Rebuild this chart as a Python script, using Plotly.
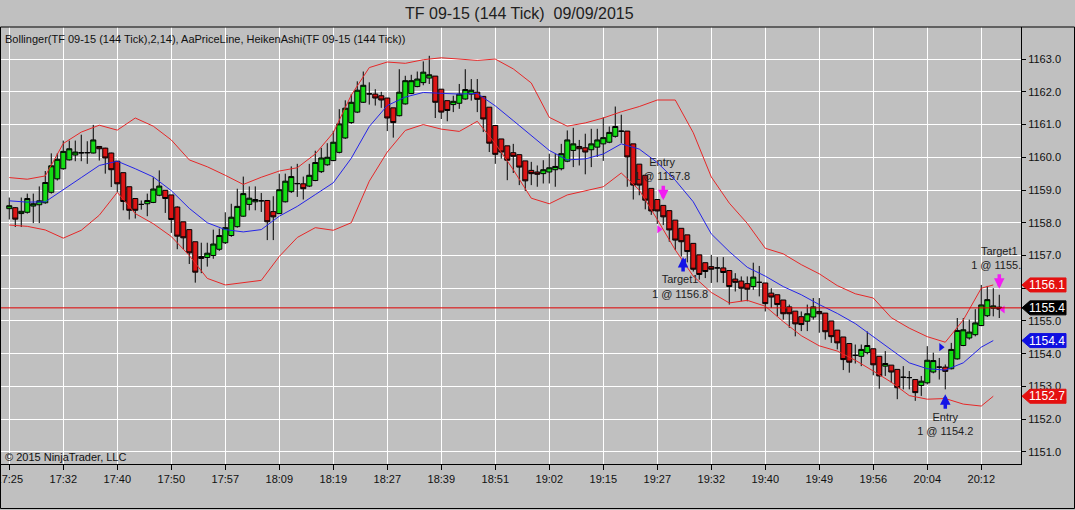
import plotly.graph_objects as go

# Heiken Ashi bars (TF 09-15, 144 tick, 09/09/2015), one entry per bar
ha_open = [
    1158.43, 1158.46, 1158.28, 1158.32, 1158.51, 1158.55, 1158.61, 1158.93, 1159.34, 1159.65,
    1159.92, 1160.07, 1160.13, 1160.14, 1160.13, 1160.33, 1160.28, 1160.13, 1159.88, 1159.53,
    1159.10, 1158.74, 1158.56, 1158.58, 1158.62, 1158.84, 1158.99, 1158.85, 1158.48, 1158.03,
    1157.79, 1157.42, 1156.97, 1156.94, 1157.00, 1157.19, 1157.39, 1157.61, 1157.88, 1158.20,
    1158.56, 1158.64, 1158.67, 1158.68, 1158.34, 1158.28, 1158.64, 1158.95, 1159.19, 1159.19,
    1159.12, 1159.29, 1159.56, 1159.77, 1159.90, 1160.15, 1160.59, 1161.06, 1161.38, 1161.68,
    1161.93, 1161.93, 1161.88, 1161.81, 1161.51, 1161.27, 1161.63, 1161.95, 1162.16, 1162.28,
    1162.42, 1162.48, 1162.08, 1161.73, 1161.61, 1161.65, 1161.78, 1161.93, 1161.99, 1161.86,
    1161.53, 1160.97, 1160.56, 1160.35, 1160.14, 1160.08, 1159.89, 1159.60, 1159.55, 1159.50,
    1159.55, 1159.62, 1159.65, 1159.88, 1160.21, 1160.33, 1160.29, 1160.23, 1160.31, 1160.41,
    1160.46, 1160.64, 1160.79, 1160.80, 1160.41, 1159.79, 1159.45, 1159.05, 1158.71, 1158.53,
    1158.37, 1158.08, 1157.83, 1157.63, 1157.37, 1157.02, 1156.78, 1156.66, 1156.62, 1156.62,
    1156.54, 1156.28, 1156.22, 1156.14, 1156.05, 1156.18, 1156.16, 1155.85, 1155.80, 1155.64,
    1155.43, 1155.30, 1155.13, 1154.99, 1155.12, 1155.29, 1155.24, 1155.00, 1154.72, 1154.51,
    1154.31, 1153.95, 1153.92, 1154.03, 1154.15, 1153.92, 1153.62, 1153.65, 1153.52, 1153.28,
    1153.27, 1153.21, 1153.03, 1153.11, 1153.44, 1153.59, 1153.59, 1153.54, 1153.84, 1154.25,
    1154.48, 1154.58, 1154.86, 1155.16, 1155.39, 1155.42,
]
ha_high = [
    1158.77, 1158.48, 1158.77, 1158.89, 1158.89, 1159.11, 1159.58, 1160.12, 1160.12, 1160.51,
    1160.51, 1160.51, 1160.69, 1160.49, 1160.99, 1160.34, 1160.29, 1160.14, 1159.88, 1159.53,
    1159.10, 1158.74, 1158.68, 1158.89, 1159.39, 1159.60, 1158.99, 1158.85, 1158.50, 1158.03,
    1157.79, 1157.42, 1157.39, 1157.39, 1157.79, 1157.82, 1158.32, 1158.58, 1159.04, 1159.41,
    1159.11, 1159.11, 1158.91, 1158.68, 1158.81, 1159.50, 1159.50, 1159.72, 1159.80, 1159.41,
    1159.80, 1160.20, 1160.29, 1160.43, 1160.81, 1161.47, 1161.74, 1161.93, 1162.32, 1162.62,
    1162.29, 1162.08, 1162.00, 1161.81, 1161.51, 1162.69, 1162.49, 1162.52, 1162.62, 1162.93,
    1163.10, 1162.48, 1162.08, 1161.73, 1161.88, 1162.24, 1162.69, 1162.39, 1162.39, 1161.86,
    1161.53, 1160.97, 1160.56, 1160.35, 1160.41, 1160.08, 1159.89, 1159.86, 1159.75, 1159.91,
    1160.11, 1160.11, 1160.41, 1160.82, 1160.90, 1160.53, 1160.72, 1160.87, 1160.87, 1161.22,
    1160.94, 1161.55, 1161.30, 1160.80, 1160.41, 1159.79, 1159.45, 1159.05, 1158.71, 1158.53,
    1158.37, 1158.08, 1157.83, 1157.63, 1157.37, 1157.02, 1156.78, 1157.02, 1156.95, 1156.95,
    1156.54, 1156.46, 1156.36, 1156.36, 1156.78, 1156.68, 1156.16, 1156.00, 1155.80, 1155.64,
    1155.50, 1155.30, 1155.29, 1155.50, 1155.70, 1155.70, 1155.24, 1155.00, 1154.72, 1154.51,
    1154.31, 1154.28, 1154.28, 1154.68, 1154.15, 1153.92, 1154.08, 1153.65, 1153.52, 1153.62,
    1153.47, 1153.21, 1153.32, 1154.23, 1154.03, 1153.87, 1153.67, 1154.33, 1155.09, 1155.09,
    1155.04, 1155.36, 1156.10, 1156.07, 1156.00, 1155.80,
]
ha_low = [
    1158.10, 1157.87, 1157.87, 1158.28, 1157.99, 1157.99, 1158.58, 1158.89, 1159.29, 1159.62,
    1159.90, 1159.88, 1159.88, 1159.80, 1160.12, 1159.90, 1159.50, 1159.09, 1158.94, 1158.38,
    1158.10, 1158.13, 1158.40, 1158.20, 1158.60, 1158.81, 1158.30, 1157.69, 1157.19, 1157.19,
    1156.74, 1156.17, 1156.46, 1156.66, 1156.90, 1157.14, 1157.35, 1157.57, 1157.85, 1158.18,
    1158.38, 1158.38, 1158.33, 1157.47, 1157.47, 1158.26, 1158.62, 1158.91, 1158.79, 1158.71,
    1159.09, 1159.27, 1159.52, 1159.74, 1159.88, 1160.12, 1160.56, 1161.02, 1161.35, 1161.66,
    1161.61, 1161.58, 1161.51, 1160.80, 1160.60, 1161.25, 1161.61, 1161.93, 1162.14, 1162.20,
    1162.24, 1161.20, 1161.17, 1161.10, 1161.38, 1161.48, 1161.76, 1161.73, 1161.38, 1160.77,
    1160.16, 1159.80, 1159.96, 1159.30, 1159.52, 1159.15, 1158.97, 1159.15, 1159.10, 1159.20,
    1159.20, 1159.10, 1159.60, 1159.85, 1159.70, 1159.75, 1159.48, 1159.70, 1160.01, 1159.89,
    1160.43, 1160.60, 1160.43, 1159.10, 1158.71, 1158.84, 1158.41, 1158.24, 1157.96, 1157.93,
    1157.42, 1157.17, 1156.97, 1156.79, 1156.51, 1156.26, 1156.31, 1156.16, 1156.18, 1156.16,
    1155.50, 1155.90, 1155.60, 1155.60, 1155.95, 1155.75, 1155.29, 1155.40, 1155.14, 1155.04,
    1154.79, 1154.53, 1154.69, 1154.69, 1155.04, 1154.64, 1154.43, 1154.33, 1154.13, 1153.50,
    1153.42, 1153.70, 1153.62, 1153.98, 1153.34, 1152.93, 1153.32, 1153.11, 1152.61, 1152.91,
    1152.91, 1152.56, 1152.71, 1153.06, 1153.40, 1153.21, 1152.91, 1153.52, 1153.82, 1154.23,
    1154.43, 1154.53, 1154.84, 1155.12, 1155.14, 1155.09,
]
ha_close = [
    1158.52, 1158.11, 1158.35, 1158.74, 1158.58, 1158.67, 1159.23, 1159.74, 1159.94, 1160.18,
    1160.26, 1160.16, 1160.14, 1160.14, 1160.53, 1160.26, 1159.98, 1159.62, 1159.19, 1158.65,
    1158.38, 1158.38, 1158.56, 1158.68, 1159.03, 1159.12, 1158.74, 1158.10, 1157.59, 1157.54,
    1157.08, 1156.49, 1156.91, 1157.07, 1157.35, 1157.61, 1157.85, 1158.17, 1158.50, 1158.89,
    1158.75, 1158.71, 1158.67, 1158.03, 1158.18, 1159.01, 1159.27, 1159.41, 1159.20, 1159.04,
    1159.45, 1159.84, 1159.98, 1160.00, 1160.46, 1161.02, 1161.50, 1161.68, 1162.05, 1162.20,
    1161.94, 1161.81, 1161.75, 1161.20, 1161.06, 1161.99, 1162.34, 1162.34, 1162.39, 1162.60,
    1162.52, 1161.68, 1161.38, 1161.43, 1161.71, 1161.93, 1162.07, 1162.05, 1161.77, 1161.17,
    1160.43, 1160.09, 1160.16, 1159.91, 1160.03, 1159.70, 1159.28, 1159.50, 1159.48, 1159.62,
    1159.68, 1159.72, 1160.11, 1160.53, 1160.41, 1160.26, 1160.16, 1160.41, 1160.53, 1160.60,
    1160.76, 1160.94, 1160.80, 1160.01, 1159.15, 1159.15, 1158.69, 1158.36, 1158.36, 1158.18,
    1157.78, 1157.47, 1157.42, 1157.12, 1156.58, 1156.42, 1156.51, 1156.58, 1156.62, 1156.48,
    1156.05, 1156.18, 1156.00, 1155.97, 1156.34, 1156.18, 1155.53, 1155.73, 1155.50, 1155.22,
    1155.22, 1154.91, 1154.89, 1155.22, 1155.43, 1155.22, 1154.67, 1154.52, 1154.33, 1153.82,
    1153.74, 1153.95, 1154.13, 1154.25, 1153.66, 1153.32, 1153.70, 1153.44, 1152.96, 1153.28,
    1153.27, 1152.81, 1153.16, 1153.80, 1153.79, 1153.59, 1153.46, 1154.13, 1154.71, 1154.73,
    1154.66, 1154.94, 1155.49, 1155.65, 1155.46, 1155.36,
]

# Bollinger(2,14) read at these bars
bb_bars = [0, 3, 6, 9, 12, 15, 18, 21, 24, 27, 30, 33, 36, 39, 42, 45, 48, 51, 54, 57,
           60, 63, 66, 69, 72, 75, 78, 81, 84, 87, 90, 93, 96, 99, 102, 105, 108, 111, 114, 117,
           120, 123, 126, 129, 132, 135, 138, 141, 144, 147, 150, 153, 156, 159, 162, 164]
bb_upper = [1159.38, 1159.33, 1159.43, 1160.42, 1160.77, 1160.98, 1160.83, 1161.20, 1160.95, 1160.53,
            1159.92, 1159.71, 1159.45, 1159.17, 1159.39, 1159.58, 1159.68, 1160.10, 1160.75, 1161.90,
            1162.74, 1162.91, 1162.87, 1162.98, 1163.04, 1163.00, 1162.96, 1163.00, 1162.70, 1162.27,
            1161.22, 1160.95, 1161.05, 1161.20, 1161.39, 1161.55, 1161.75, 1161.75, 1160.75, 1159.40,
            1158.60, 1157.98, 1157.22, 1157.05, 1156.72, 1156.44, 1156.08, 1155.83, 1155.70, 1155.10,
            1154.78, 1154.52, 1154.35, 1155.03, 1156.00, 1156.10]
bb_mid = [1158.67, 1158.63, 1158.64, 1159.02, 1159.38, 1159.75, 1159.88, 1159.65, 1159.40, 1158.98,
          1158.44, 1158.00, 1157.79, 1157.72, 1157.79, 1158.20, 1158.50, 1158.86, 1159.22, 1159.97,
          1160.94, 1161.58, 1161.84, 1161.98, 1161.95, 1161.93, 1161.95, 1161.57, 1161.12, 1160.65,
          1160.21, 1159.92, 1159.95, 1160.10, 1160.41, 1160.25, 1159.84, 1159.30, 1158.64, 1157.66,
          1157.12, 1156.64, 1156.37, 1156.05, 1155.80, 1155.50, 1155.23, 1154.92, 1154.53, 1154.12,
          1153.72, 1153.54, 1153.50, 1153.72, 1154.20, 1154.40]
bb_lower = [1157.93, 1157.89, 1157.78, 1157.53, 1157.77, 1158.23, 1158.93, 1158.28, 1157.97, 1157.58,
            1157.00, 1156.30, 1156.10, 1156.17, 1156.24, 1156.97, 1157.55, 1157.85, 1157.77, 1158.00,
            1159.27, 1160.16, 1160.82, 1161.00, 1160.86, 1160.79, 1161.10, 1160.42, 1159.62, 1158.75,
            1158.58, 1158.85, 1158.97, 1159.10, 1159.52, 1159.00, 1158.10, 1157.17, 1156.37, 1155.87,
            1155.55, 1155.63, 1155.45, 1154.98, 1154.55, 1154.24, 1154.08, 1153.80, 1153.47, 1153.13,
            1152.72, 1152.61, 1152.63, 1152.46, 1152.40, 1152.70]

tick_bars = [0, 9, 18, 27, 36, 45, 54, 63, 72, 81, 90, 99, 108, 117, 126, 135, 144, 153, 162]
tick_labels = ["17:25", "17:32", "17:40", "17:50", "17:57", "18:09", "18:19", "18:27", "18:39", "18:51",
               "19:02", "19:15", "19:27", "19:32", "19:40", "19:49", "19:56", "20:04", "20:12"]

last_price = 1155.4
tag_values = [1156.1, 1155.4, 1154.4, 1152.7]

# trades: labels, arrows and fill marks
label_text = ["Entry<br>1 @ 1157.8", "Target1<br>1 @ 1156.8", "Entry<br>1 @ 1154.2", "Target1<br>1 @ 1155.4"]
label_bar = [108.8, 111.8, 156.0, 165.0]
label_price = [1159.61, 1156.01, 1151.82, 1156.89]
arrow_bar = [109, 112.3, 156, 165]
arrow_price = [1158.69, 1156.95, 1152.76, 1155.98]
arrow_side = ["sell", "buy", "buy", "sell"]
fill_bar = [108.3, 112.5, 155.3, 165.6]
fill_price = [1157.8, 1156.8, 1154.2, 1155.35]
fill_kind = ["entry", "exit", "entry", "exit"]

# ---- styling / layout
W, H = 1075, 510
L, R, T, B = 1, 1021, 27, 464
YMIN, YMAX = 1150.63, 1163.98
BG = "#C0C0C0"
FONT = "Liberation Sans, Arial, sans-serif"
SIDE_COLOR = {"sell": "#F21CF2", "buy": "#1414E6"}
TAG_COLOR = ["#E41010", "#000000", "#1010E0", "#E41010"]


def px_x(p):
    return (p - L) / (R - L)


def px_y(p):
    return (B - p) / (B - T)


bars = list(range(len(ha_open)))
fig = go.Figure()

fig.add_trace(go.Candlestick(
    x=bars, open=ha_open, high=ha_high, low=ha_low, close=ha_close,
    increasing=dict(line=dict(color="black", width=1), fillcolor="#14DC14"),
    decreasing=dict(line=dict(color="black", width=1), fillcolor="#DC1414"),
    whiskerwidth=0, showlegend=False,
))

fig.add_trace(go.Scatter(
    x=label_bar, y=label_price, text=label_text, mode="text",
    textfont=dict(family=FONT, size=11, color="#202020"), showlegend=False, hoverinfo="skip",
))

for vals, col in [(bb_upper, "#E62828"), (bb_lower, "#E62828"), (bb_mid, "#2424E8")]:
    fig.add_trace(go.Scatter(x=bb_bars, y=vals, mode="lines", line=dict(color=col, width=1),
                             showlegend=False, hoverinfo="skip"))

fig.add_trace(go.Scatter(
    x=fill_bar, y=fill_price, mode="markers",
    marker=dict(symbol=["triangle-right" if k == "entry" else "triangle-left" for k in fill_kind],
                size=7, color=[SIDE_COLOR[s] for s in arrow_side], line=dict(width=0)),
    showlegend=False, hoverinfo="skip",
))

for b, p, s in zip(arrow_bar, arrow_price, arrow_side):
    fig.add_annotation(x=b, y=p, ax=0, ay=-16 if s == "sell" else 16, text="",
                       showarrow=True, arrowhead=2, arrowsize=0.6, arrowwidth=3.5,
                       arrowcolor=SIDE_COLOR[s], standoff=0)

fig.add_hline(y=last_price, line=dict(color="#E00000", width=1))

# price tags on the right axis
half = 7 * (YMAX - YMIN) / (B - T)
for v, col in zip(tag_values, TAG_COLOR):
    x0, x1, x2 = px_x(1022), px_x(1030), px_x(1066)
    fig.add_shape(type="path", xref="paper", yref="y", layer="above",
                  path=f"M {x0},{v} L {x1},{v + half} L {x2},{v + half} L {x2},{v - half} L {x1},{v - half} Z",
                  fillcolor=col, line=dict(color=col, width=1))
    fig.add_annotation(xref="paper", yref="y", x=px_x(1047), y=v, text=f"{v:.1f}", showarrow=False,
                       font=dict(family=FONT, size=12, color="white"), xanchor="center", yanchor="middle")

# frame
fig.add_shape(type="rect", xref="paper", yref="paper", x0=px_x(0.5), x1=px_x(1074.5),
              y0=px_y(508.5), y1=1, line=dict(color="black", width=1), layer="above")

fig.add_annotation(xref="paper", yref="paper", x=px_x(519), y=px_y(14),
                   text="TF 09-15 (144 Tick)\u00a0 09/09/2015", showarrow=False,
                   font=dict(family=FONT, size=16, color="#202020"), xanchor="center", yanchor="middle")
fig.add_annotation(xref="paper", yref="paper", x=px_x(3), y=px_y(39),
                   text="Bollinger(TF 09-15 (144 Tick),2,14), AaPriceLine, HeikenAshi(TF 09-15 (144 Tick))",
                   showarrow=False, font=dict(family=FONT, size=11, color="#101010"),
                   xanchor="left", yanchor="middle")
fig.add_annotation(xref="paper", yref="paper", x=px_x(3), y=px_y(457),
                   text="© 2015 NinjaTrader, LLC", showarrow=False,
                   font=dict(family=FONT, size=11, color="#101010"), xanchor="left", yanchor="middle")

fig.update_layout(
    width=W, height=H,
    margin=dict(l=L, r=W - R, t=T, b=H - B, pad=0, autoexpand=False),
    paper_bgcolor=BG, plot_bgcolor=BG,
    font=dict(family=FONT, size=11, color="#101010"),
    boxgap=0.12, boxgroupgap=0.05,
    showlegend=False,
)
fig.update_xaxes(
    range=[-1.38, 168.62], tickvals=tick_bars, ticktext=tick_labels,
    showgrid=True, gridcolor="white", gridwidth=1, zeroline=False,
    ticks="outside", ticklen=5, tickcolor="black", ticklabeloverflow="allow",
    showline=True, linecolor="black", linewidth=1,
    rangeslider=dict(visible=False),
)
fig.update_yaxes(
    side="right", range=[YMIN, YMAX], tick0=1151, dtick=1, tickformat=".1f",
    showgrid=True, gridcolor="white", gridwidth=1, zeroline=False,
    ticks="outside", ticklen=4, tickcolor="black",
    showline=True, linecolor="black", linewidth=1,
)

# the page's default body margin would shift the chart by 8px
fig.write_html("out.html", config={"displayModeBar": False},
               post_script="document.body.style.margin='0';document.body.style.background='#C0C0C0';")
